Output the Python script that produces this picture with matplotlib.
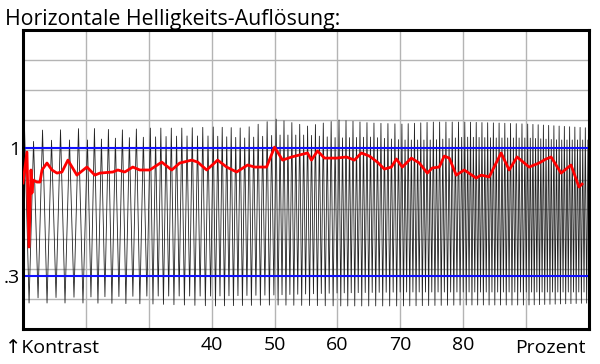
import numpy as np
import matplotlib
matplotlib.use("Agg")
import matplotlib.pyplot as plt

plt.rcParams['font.family'] = ['Open Sans', 'DejaVu Sans']

title = "Horizontale Helligkeits-Auflösung:"
x_ticks = [40, 50, 60, 70, 80]
ref_levels = [1.0, 0.3]
ref_labels = ["1", ".3"]

# red curve (Kontrast)
red_x = [10.0, 10.63, 10.95, 11.27, 11.43, 11.59, 12.22, 12.70, 13.02, 13.81,
         14.60, 15.40, 16.19, 17.14, 18.57, 20.16, 21.43, 22.22, 24.29, 25.08,
         26.19, 27.46, 28.57, 30.16, 32.06, 33.65, 34.92, 36.83, 37.78, 39.21,
         40.95, 42.38, 43.97, 45.71, 46.83, 48.73, 50.00, 51.27, 52.70, 53.97,
         55.24, 55.87, 56.83, 57.94, 59.84, 61.43, 62.70, 63.81, 65.08, 66.35,
         67.46, 68.57, 69.37, 70.32, 71.75, 73.02, 74.29, 75.08, 76.19, 76.98,
         77.78, 78.89, 80.16, 82.06, 82.86, 84.13, 86.03, 87.30, 88.57, 90.48,
         92.06, 93.17, 93.97, 95.56, 97.14, 98.41, 98.89]
red_y = [0.809, 0.978, 0.459, 0.880, 0.754, 0.825, 0.814, 0.814, 0.880, 0.918,
         0.880, 0.863, 0.869, 0.934, 0.852, 0.896, 0.852, 0.863, 0.869, 0.880,
         0.869, 0.896, 0.880, 0.880, 0.923, 0.880, 0.918, 0.934, 0.923, 0.880,
         0.934, 0.896, 0.869, 0.907, 0.896, 0.896, 1.005, 0.934, 0.951, 0.962,
         0.973, 0.934, 0.984, 0.945, 0.945, 0.951, 0.934, 0.973, 0.956, 0.923,
         0.885, 0.896, 0.940, 0.896, 0.945, 0.918, 0.863, 0.891, 0.896, 0.956,
         0.945, 0.852, 0.880, 0.836, 0.852, 0.842, 0.973, 0.880, 0.951, 0.896,
         0.918, 0.940, 0.951, 0.863, 0.907, 0.787, 0.803]

# test signal: cycles per grid column and envelope readings
col_edges = [10, 20, 30, 40, 50, 60, 70, 80, 90, 100]
cycles_per_col = [7, 9, 12, 14, 16, 18, 20, 22, 24]
env_x = [10, 15, 20, 25, 30, 35, 40, 45, 50, 55, 60, 65, 70, 75, 80, 85, 90, 95, 100]
upper_hi = [1.098, 1.098, 1.109, 1.098, 1.109, 1.109, 1.115, 1.109, 1.158, 1.120,
            1.153, 1.137, 1.131, 1.142, 1.142, 1.137, 1.131, 1.120, 1.109]
upper_lo = [1.033, 1.044, 1.044, 1.055, 1.060, 1.066, 1.066, 1.055, 1.071, 1.071,
            1.055, 1.060, 1.044, 1.044, 1.060, 1.055, 1.055, 1.044, 1.044]
low_x = [10, 20, 30, 40, 50, 60, 70, 80, 90, 100]
lower_deep = [0.153, 0.153, 0.148, 0.137, 0.142, 0.137, 0.137, 0.142, 0.142, 0.153]
lower_flat = [0.180, 0.186, 0.191, 0.191, 0.197, 0.208, 0.213, 0.213, 0.213, 0.213]

# build the zigzag from the cycle counts and envelopes
cum = np.concatenate([[0], np.cumsum(cycles_per_col)])
phases = np.arange(0, cum[-1] * 2) / 2.0
sig_x = np.interp(phases, cum, col_edges)
sig_y = []
for i, (px, ph) in enumerate(zip(sig_x, phases)):
    k = int(ph)
    if i % 2 == 0:
        env = upper_hi if k % 2 == 0 else upper_lo
        sig_y.append(np.interp(px, env_x, env))
    else:
        env = lower_deep if k % 2 == 0 else lower_flat
        sig_y.append(np.interp(px, low_x, env))
sig_x = sig_x + 0.25

fig = plt.figure(figsize=(6, 3.64), dpi=100)
ax = fig.add_axes([23 / 600, 35 / 364, 566 / 600, 299 / 364])
y_lo, y_hi = 0.011, 1.645
ax.set_xlim(10, 100)
ax.set_ylim(y_lo, y_hi)

for gx in col_edges[1:-1]:
    ax.axvline(gx, color='#b4b4b4', lw=1.0, zorder=0)
for i in range(1, 10):
    ax.axhline(y_lo + i * (y_hi - y_lo) / 10, color='#b4b4b4', lw=1.0, zorder=0)

ax.plot(sig_x, sig_y, color='#222222', lw=0.6, zorder=1)
for lvl in ref_levels:
    ax.axhline(lvl, color='#1010ff', lw=1.5, zorder=2)
ax.plot(red_x, red_y, color='#ff0000', lw=2.0, zorder=3)

for s in ax.spines.values():
    s.set_linewidth(2.2)
    s.set_color('black')
ax.set_xticks(x_ticks)
ax.set_xticklabels([str(t) for t in x_ticks], fontsize=14)
ax.tick_params(axis='x', length=0, pad=5)
ax.set_yticks(ref_levels)
ax.set_yticklabels(ref_labels, fontsize=14)
ax.tick_params(axis='y', length=0, pad=2)

fig.text(5 / 600, 1 - 25 / 364, title, fontsize=15.3, va='baseline', ha='left')
fig.text(5 / 600, 1 - 353 / 364, "↑Kontrast", fontsize=14, va='baseline', ha='left',
         family=['Open Sans', 'DejaVu Sans'])
fig.text(586 / 600, 1 - 353 / 364, "Prozent", fontsize=14, va='baseline', ha='right')

fig.savefig("out.png", dpi=100)
